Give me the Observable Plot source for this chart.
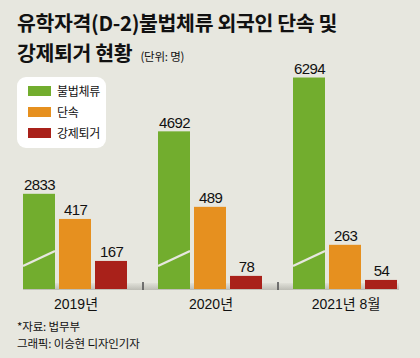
<!DOCTYPE html>
<html>
<head>
<meta charset="utf-8">
<script src="https://cdn.jsdelivr.net/npm/d3@7"></script>
<script src="https://cdn.jsdelivr.net/npm/@observablehq/plot@0.6"></script>
<style>
html,body{margin:0;padding:0;background:#e7e7df;}
#wrap{position:relative;width:420px;height:358px;overflow:hidden;font-family:"Noto Sans CJK KR","Noto Sans",sans-serif;color:#111;}
#chart{position:absolute;left:0;top:0;}
.tl{position:absolute;left:17px;height:30px;font-size:20.5px;font-weight:700;line-height:30px;letter-spacing:-0.35px;white-space:nowrap;}
.tl .unit{font-size:11.5px;font-weight:400;letter-spacing:-0.2px;margin-left:8px;line-height:12px;}
#legend{position:absolute;left:17px;top:77px;width:89px;height:71px;background:#fff;border-radius:9px;}
.item{position:absolute;left:11px;height:14px;display:flex;align-items:center;font-size:12px;line-height:14px;white-space:nowrap;letter-spacing:-0.3px;}
.sw{width:23px;height:10px;margin-right:6px;flex:none;}
.fl{position:absolute;left:17px;height:17px;font-size:11.5px;line-height:17px;letter-spacing:-0.15px;white-space:nowrap;}
</style>
</head>
<body>
<div id="wrap">
  <div id="chart"></div>
  <div class="tl" style="top:7px">유학자격(D-2)불법체류 외국인 단속 및</div>
  <div class="tl" style="top:37px">강제퇴거 현황<span class="unit">(단위: 명)</span></div>
  <div id="legend"></div>
  <div class="fl" style="top:318px">*자료: 법무부</div>
  <div class="fl" style="top:335px">그래픽: 이승현 디자인기자</div>
</div>
<script>
// ---- data ----
const years = ["2019년", "2020년", "2021년 8월"];
const series = ["불법체류", "단속", "강제퇴거"];
const illegalStay = [2833, 4692, 6294];   // 불법체류
const crackdown = [417, 489, 263];        // 단속
const deportation = [167, 78, 54];        // 강제퇴거
const colors = ["#72ad2e", "#e6901f", "#a9211a"];
// The green series is drawn on a broken (compressed) axis, marked by the white break line
const brokenSeries = "불법체류";
const breakRatio = 5;

const rows = years.flatMap((year, i) => [
  {year, series: series[0], value: illegalStay[i]},
  {year, series: series[1], value: crackdown[i]},
  {year, series: series[2], value: deportation[i]}
]);
const drawn = d => d.series === brokenSeries ? d.value / breakRatio : d.value;

// legend
const legend = document.getElementById("legend");
series.forEach((s, i) => {
  const it = document.createElement("div");
  it.className = "item";
  it.style.top = (7 + i * 21) + "px";
  it.innerHTML = `<span class="sw" style="background:${colors[i]}"></span><span>${s}</span>`;
  legend.appendChild(it);
});

const bg = "#e7e7df";
const chart = Plot.plot({
  width: 420,
  height: 358,
  marginTop: 37,
  marginBottom: 69,
  marginLeft: 23,
  marginRight: 21,
  style: {background: "transparent", fontFamily: "'Liberation Sans','Noto Sans CJK KR',sans-serif", fontSize: "14px", color: "#111"},
  fx: {domain: years, label: null, axis: "bottom", tickSize: 0, tickPadding: 10, paddingInner: 0.222, paddingOuter: 0},
  x: {domain: series, axis: null, paddingInner: 0.1, paddingOuter: 0},
  y: {domain: [0, 1500], axis: null},
  color: {domain: series, range: colors},
  marks: [
    Plot.barY(rows, {fx: "year", x: "series", y: drawn, fill: "series"}),
    Plot.text(rows, {fx: "year", x: "series", y: drawn, text: d => String(d.value), dy: -4, lineAnchor: "bottom", fontSize: 15, fill: "#111"})
  ]
});
document.getElementById("chart").appendChild(chart);

// decorations via the library's scales
const svg = d3.select(chart);
const yS = chart.scale("y");
const fxS = chart.scale("fx");
const y0 = yS.apply(0);
const defs = svg.insert("defs", ":first-child");
const grad = defs.append("linearGradient").attr("id", "baseGrad").attr("x1", 0).attr("x2", 0).attr("y1", 0).attr("y2", 1);
grad.append("stop").attr("offset", "0%").attr("stop-color", "#e0e0d8");
grad.append("stop").attr("offset", "100%").attr("stop-color", "#bdbdb5");
const base = svg.insert("g", "defs + *");
const [ra, rb] = fxS.range;
base.append("rect").attr("x", ra).attr("y", y0 - 6).attr("width", rb - ra).attr("height", 7).attr("fill", "url(#baseGrad)");
for (let i = 0; i < years.length - 1; i++) {
  const xm = (fxS.apply(years[i]) + fxS.bandwidth + fxS.apply(years[i + 1])) / 2;
  base.append("line").attr("x1", xm).attr("x2", xm).attr("y1", y0 - 7).attr("y2", y0 + 1)
    .attr("stroke", "#555").attr("stroke-width", 1.6);
}
// break marks on the green bars
svg.selectAll("g[aria-label='bar'] rect").each(function () {
  const r = d3.select(this);
  const f = this.getAttribute("fill") || this.parentNode.getAttribute("fill");
  if (f !== colors[0]) return;
  const x = +r.attr("x"), w = +r.attr("width"), yb = +r.attr("y") + +r.attr("height");
  d3.select(this.parentNode).append("line")
    .attr("x1", x).attr("x2", x + w).attr("y1", yb - 23).attr("y2", yb - 38)
    .attr("stroke", bg).attr("stroke-width", 2.4);
});
svg.selectAll("g[aria-label='text'] text").attr("letter-spacing", "-0.6px");
</script>
</body>
</html>
